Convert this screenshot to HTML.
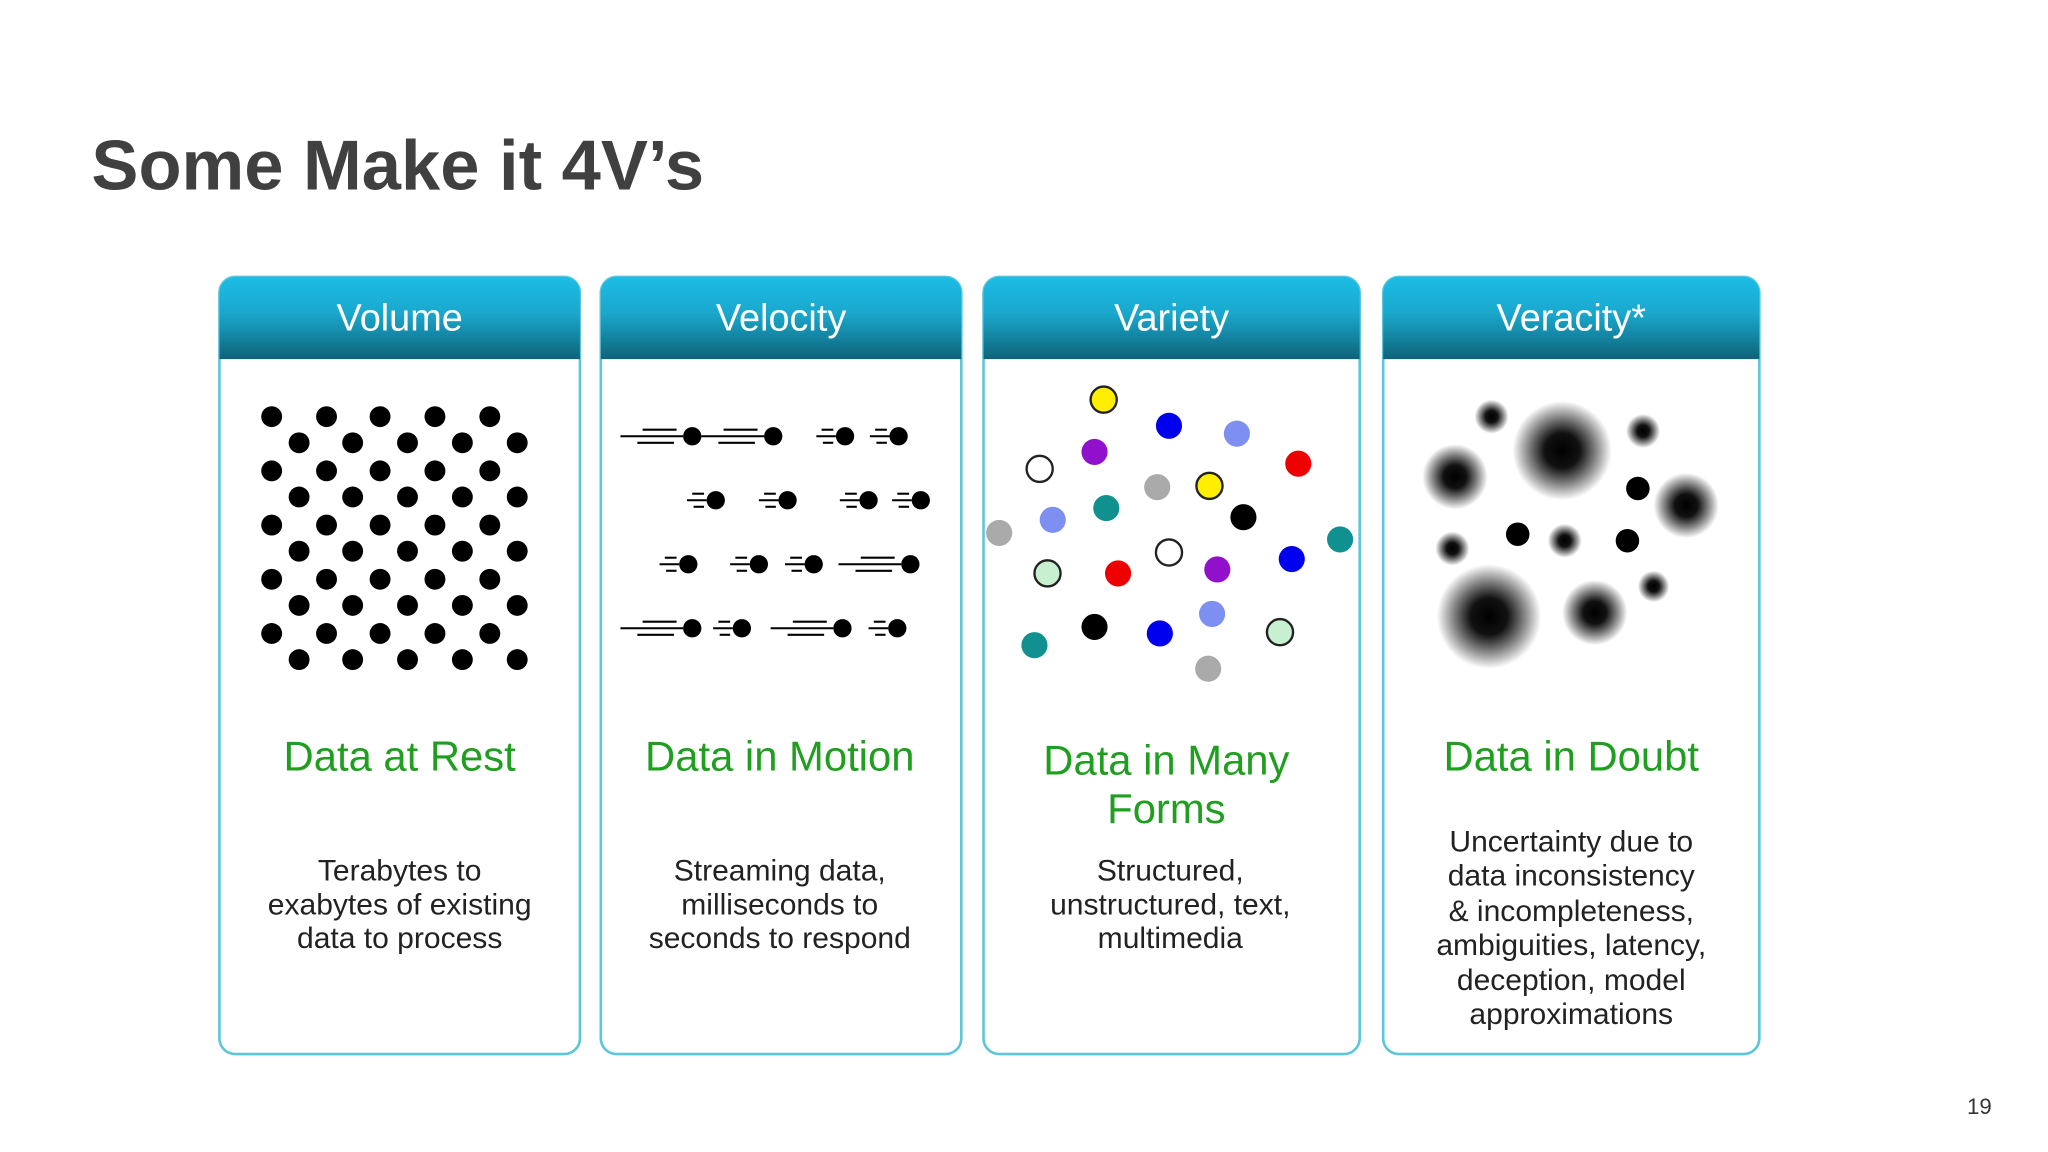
<!DOCTYPE html>
<html><head><meta charset="utf-8"><style>
html,body{margin:0;padding:0;background:#fff;width:2048px;height:1152px;overflow:hidden}
svg{display:block}
text{font-family:"Liberation Sans",sans-serif}
</style></head><body>
<svg width="2048" height="1152" viewBox="0 0 1568 882" preserveAspectRatio="none" xmlns="http://www.w3.org/2000/svg">
<defs>
<linearGradient id="hg" x1="0" y1="0" x2="0" y2="1">
<stop offset="0" stop-color="#1cbde6"/><stop offset="0.45" stop-color="#1aa7cc"/><stop offset="1" stop-color="#0e6378"/>
</linearGradient>
<radialGradient id="bl"><stop offset="0" stop-color="#000"/><stop offset="0.35" stop-color="#111"/><stop offset="1" stop-color="#000" stop-opacity="0"/></radialGradient>
<g id="lg" stroke="#000" stroke-width="1.6"><line x1="-55" y1="0" x2="-7" y2="0"/><line x1="-38" y1="-5" x2="-12" y2="-5"/><line x1="-42" y1="5" x2="-14" y2="5"/><circle cx="0" cy="0" r="7" fill="#000" stroke="none"/></g>
<g id="sm" stroke="#000" stroke-width="1.6"><line x1="-22" y1="0" x2="-7" y2="0"/><line x1="-18" y1="-5" x2="-9" y2="-5"/><line x1="-17" y1="5" x2="-9" y2="5"/><circle cx="0" cy="0" r="7" fill="#000" stroke="none"/></g>
</defs>
<text x="70" y="145" font-size="54" font-weight="bold" fill="#404040">Some Make it 4V’s</text>
<text x="1506" y="853" font-size="17" fill="#333">19</text>

<g stroke="#5ec6da" stroke-width="2" fill="#fff">
<rect x="168" y="212" width="276" height="595" rx="12"/>
<rect x="460" y="212" width="276" height="595" rx="12"/>
<rect x="753" y="212" width="288" height="595" rx="12"/>
<rect x="1059" y="212" width="288" height="595" rx="12"/>
</g>
<g fill="url(#hg)">
<path d="M168 275V224a12 12 0 0 1 12-12h252a12 12 0 0 1 12 12v51z"/>
<path d="M460 275V224a12 12 0 0 1 12-12h252a12 12 0 0 1 12 12v51z"/>
<path d="M753 275V224a12 12 0 0 1 12-12h264a12 12 0 0 1 12 12v51z"/>
<path d="M1059 275V224a12 12 0 0 1 12-12h264a12 12 0 0 1 12 12v51z"/>
</g>
<g fill="#fff" font-size="29" text-anchor="middle">
<text x="306" y="253">Volume</text>
<text x="598" y="253">Velocity</text>
<text x="897" y="253">Variety</text>
<text x="1203" y="253">Veracity*</text>
</g>

<g fill="#000">
<g id="ra"><circle cx="208" cy="319" r="8"/><circle cx="250" cy="319" r="8"/><circle cx="291" cy="319" r="8"/><circle cx="333" cy="319" r="8"/><circle cx="375" cy="319" r="8"/></g>
<g id="rb"><circle cx="229" cy="339" r="8"/><circle cx="270" cy="339" r="8"/><circle cx="312" cy="339" r="8"/><circle cx="354" cy="339" r="8"/><circle cx="396" cy="339" r="8"/></g>
<use href="#ra" y="41.5"/><use href="#rb" y="41.5"/>
<use href="#ra" y="83"/><use href="#rb" y="83"/>
<use href="#ra" y="124.5"/><use href="#rb" y="124.5"/>
<use href="#ra" y="166"/><use href="#rb" y="166"/>
</g>

<g>
<use href="#lg" x="530" y="334"/><use href="#lg" x="592" y="334"/><use href="#sm" x="647" y="334"/><use href="#sm" x="688" y="334"/>
<use href="#sm" x="548" y="383"/><use href="#sm" x="603" y="383"/><use href="#sm" x="665" y="383"/><use href="#sm" x="705" y="383"/>
<use href="#sm" x="527" y="432"/><use href="#sm" x="581" y="432"/><use href="#sm" x="623" y="432"/><use href="#lg" x="697" y="432"/>
<use href="#lg" x="530" y="481"/><use href="#sm" x="568" y="481"/><use href="#lg" x="645" y="481"/><use href="#sm" x="687" y="481"/>
</g>

<g stroke-width="1.8">
<circle cx="845" cy="306" r="10" fill="#ffee00" stroke="#222"/>
<circle cx="895" cy="326" r="10" fill="#0000ee"/>
<circle cx="947" cy="332" r="10" fill="#7d8ff0"/>
<circle cx="838" cy="346" r="10" fill="#9010cc"/>
<circle cx="994" cy="355" r="10" fill="#ee0000"/>
<circle cx="796" cy="359" r="10" fill="#fff" stroke="#222"/>
<circle cx="886" cy="373" r="10" fill="#aaa"/>
<circle cx="926" cy="372" r="10" fill="#ffee00" stroke="#222"/>
<circle cx="847" cy="389" r="10" fill="#119090"/>
<circle cx="806" cy="398" r="10" fill="#7d8ff0"/>
<circle cx="952" cy="396" r="10" fill="#000"/>
<circle cx="765" cy="408" r="10" fill="#aaa"/>
<circle cx="1026" cy="413" r="10" fill="#119090"/>
<circle cx="895" cy="423" r="10" fill="#fff" stroke="#222"/>
<circle cx="932" cy="436" r="10" fill="#9010cc"/>
<circle cx="989" cy="428" r="10" fill="#0000ee"/>
<circle cx="802" cy="439" r="10" fill="#c8f0d0" stroke="#222"/>
<circle cx="856" cy="439" r="10" fill="#ee0000"/>
<circle cx="838" cy="480" r="10" fill="#000"/>
<circle cx="888" cy="485" r="10" fill="#0000ee"/>
<circle cx="928" cy="470" r="10" fill="#7d8ff0"/>
<circle cx="980" cy="484" r="10" fill="#c8f0d0" stroke="#222"/>
<circle cx="792" cy="494" r="10" fill="#119090"/>
<circle cx="925" cy="512" r="10" fill="#aaa"/>
</g>

<g fill="url(#bl)">
<circle cx="1196" cy="345" r="38"/>
<circle cx="1114" cy="365" r="25"/>
<circle cx="1140" cy="472" r="40"/>
<circle cx="1221" cy="469" r="25"/>
<circle cx="1291" cy="387" r="25"/>
<circle cx="1142" cy="319" r="13"/>
<circle cx="1258" cy="330" r="13"/>
<circle cx="1112" cy="420" r="13"/>
<circle cx="1198" cy="414" r="13"/>
<circle cx="1266" cy="449" r="12"/>
</g>
<g fill="#000">
<circle cx="1254" cy="374" r="9"/><circle cx="1162" cy="409" r="9"/><circle cx="1246" cy="414" r="9"/>
</g>

<g fill="#1f9e1f" font-size="32" text-anchor="middle">
<text x="306" y="590">Data at Rest</text>
<text x="597" y="590">Data in Motion</text>
<text x="893" y="593">Data in Many</text>
<text x="893" y="630">Forms</text>
<text x="1203" y="590">Data in Doubt</text>
</g>
<g fill="#222" font-size="23" text-anchor="middle">
<text x="306" y="674">Terabytes to</text>
<text x="306" y="700">exabytes of existing</text>
<text x="306" y="726">data to process</text>
<text x="597" y="674">Streaming data,</text>
<text x="597" y="700">milliseconds to</text>
<text x="597" y="726">seconds to respond</text>
<text x="896" y="674">Structured,</text>
<text x="896" y="700">unstructured, text,</text>
<text x="896" y="726">multimedia</text>
<text x="1203" y="652">Uncertainty due to</text>
<text x="1203" y="678">data inconsistency</text>
<text x="1203" y="705">&amp; incompleteness,</text>
<text x="1203" y="731">ambiguities, latency,</text>
<text x="1203" y="758">deception, model</text>
<text x="1203" y="784">approximations</text>
</g>
</svg>
</body></html>
